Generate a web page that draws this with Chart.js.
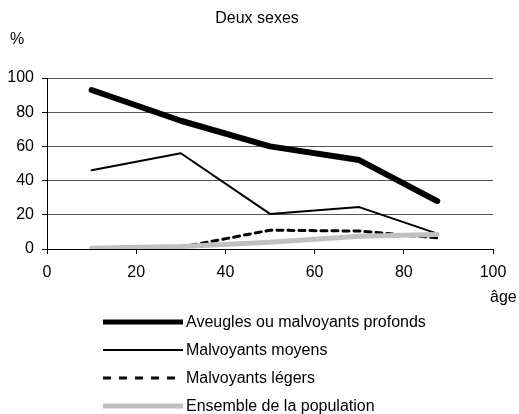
<!DOCTYPE html>
<html lang="fr">
<head>
  <meta charset="UTF-8" />
  <title>Deux sexes</title>
  <script src="https://cdn.jsdelivr.net/npm/chart.js"></script>
  <style>
    html, body { margin: 0; padding: 0; background: #fff; }
    #wrap { width: 519px; height: 414px; }
  </style>
</head>
<body>
  <div id="wrap"><canvas id="chart" width="519" height="414"></canvas></div>

  <script>
    // Données
    const ages = [10, 30, 50, 70, 87.5];
    const aveugles = [93, 75, 60, 52, 28];
    const moyens = [46, 56, 20.5, 24.5, 9];
    const legers = [0.5, 1, 11, 10.5, 6.5];
    const population = [0.5, 1.5, 4, 7.5, 8.5];
    const xTicks = [0, 20, 40, 60, 80, 100];
    const yTicks = [0, 20, 40, 60, 80, 100];

    const FONT = '"Liberation Sans", Arial, sans-serif';

    const pts = vals => ages.map((a, i) => ({ x: a, y: vals[i] }));

    // textes et légende dessinés sur le canvas
    const extras = {
      id: 'extras',
      afterDraw(chart) {
        const c = chart.ctx;
        c.save();
        c.fillStyle = '#000';
        c.font = '16px ' + FONT;
        c.textBaseline = 'middle';
        c.textAlign = 'center';
        c.fillText('Deux sexes', 257, 19);
        c.fillText('%', 17, 40);
        c.textAlign = 'left';
        c.fillText('âge', 490, 298);

        const rows = [322, 350, 378, 406];
        chart.data.datasets.forEach((ds, i) => {
          const y = rows[i];
          c.beginPath();
          c.strokeStyle = ds.borderColor;
          c.lineWidth = ds.legendWidth || ds.borderWidth;
          c.lineCap = 'butt';
          c.setLineDash(ds.legendDash || []);
          c.moveTo(103, y);
          c.lineTo(183, y);
          c.stroke();
          c.setLineDash([]);
          c.fillStyle = '#000';
          c.fillText(ds.label, 186, y + 1);
        });
        c.restore();
      }
    };

    new Chart(document.getElementById('chart'), {
      type: 'line',
      data: {
        datasets: [
          {
            label: 'Aveugles ou malvoyants profonds',
            data: pts(aveugles),
            borderColor: '#000',
            borderWidth: 6,
            legendWidth: 5,
            order: 3
          },
          {
            label: 'Malvoyants moyens',
            data: pts(moyens),
            borderColor: '#000',
            borderWidth: 2,
            order: 2
          },
          {
            label: 'Malvoyants légers',
            data: pts(legers),
            borderColor: '#000',
            borderWidth: 3,
            borderDash: [6, 5],
            legendDash: [8, 8],
            order: 1
          },
          {
            label: 'Ensemble de la population',
            data: pts(population),
            borderColor: '#c0c0c0',
            borderWidth: 5,
            order: 0
          }
        ]
      },
      options: {
        responsive: false,
        animation: false,
        layout: { padding: { top: 78, right: 26, left: 0, bottom: 0 } },
        elements: {
          point: { radius: 0 },
          line: { tension: 0, borderCapStyle: 'round', borderJoinStyle: 'round' }
        },
        plugins: {
          legend: { display: false },
          title: { display: false },
          tooltip: { enabled: false }
        },
        scales: {
          x: {
            type: 'linear',
            min: 0,
            max: 100,
            afterBuildTicks: s => { s.ticks = xTicks.map(v => ({ value: v })); },
            afterFit: s => { s.height = 414 - 249; },
            grid: { drawOnChartArea: false, drawTicks: true, tickLength: 5, color: '#000' },
            border: { color: '#000', width: 1 },
            ticks: { color: '#000', font: { family: FONT, size: 16 }, padding: 9, maxRotation: 0 }
          },
          y: {
            min: 0,
            max: 100,
            afterBuildTicks: s => { s.ticks = yTicks.map(v => ({ value: v })); },
            afterFit: s => { s.width = 47; },
            grid: { color: '#555', tickLength: 5, tickColor: '#000' },
            border: { color: '#000', width: 1 },
            ticks: { color: '#000', font: { family: FONT, size: 16 }, padding: 8 }
          }
        }
      },
      plugins: [extras]
    });
  </script>
</body>
</html>
